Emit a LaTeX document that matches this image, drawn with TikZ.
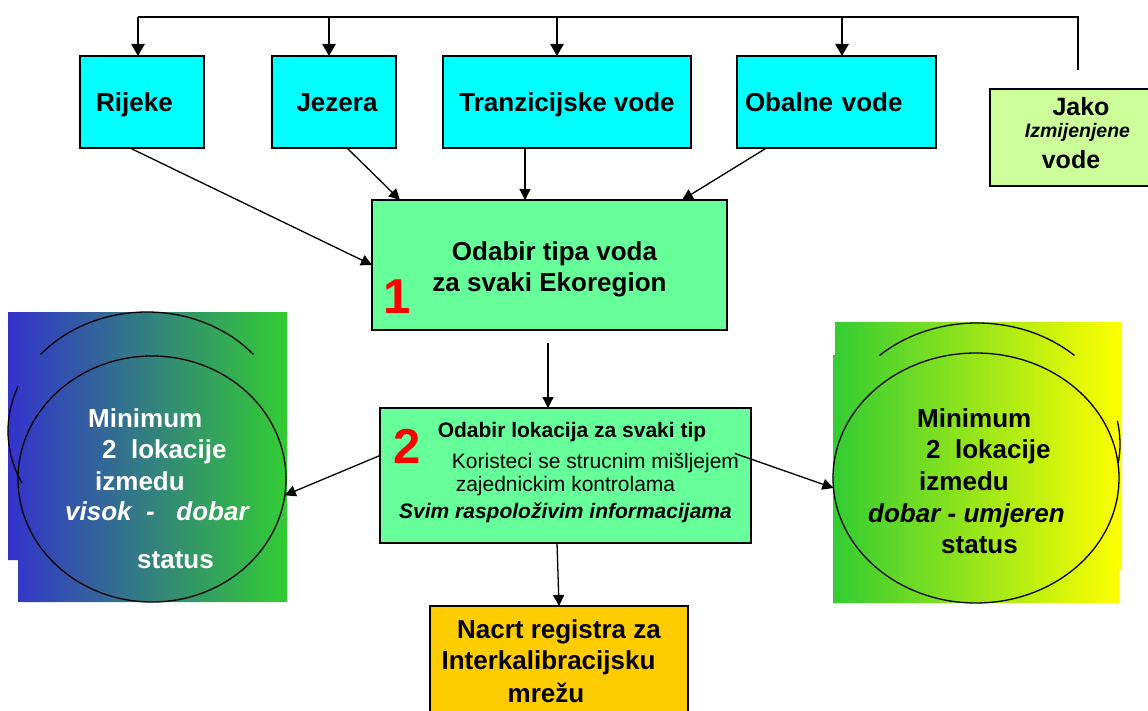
\documentclass[tikz,border=0pt]{standalone}
\usepackage{fontspec}
\setmainfont{Liberation Sans}
\usetikzlibrary{arrows.meta,shapes.geometric}
\definecolor{vcyan}{HTML}{00FFFF}
\definecolor{vgreen}{HTML}{66FF99}
\definecolor{vlime}{HTML}{CCFF99}
\definecolor{vgold}{HTML}{FFCC00}
\definecolor{vblue}{HTML}{3333CC}
\definecolor{vgrass}{HTML}{33CC33}
\definecolor{vyellow}{HTML}{FFFF00}
\begin{document}
\begin{tikzpicture}[x=1pt,y=-1pt,
	box/.style={draw, line width=1.2pt, inner sep=0pt, outer sep=0pt, align=center, font=\fontsize{26}{31}\selectfont\bfseries},
	tbox/.style={box, fill=vcyan, minimum height=92, text height=20pt, text depth=0pt},
	arr/.style={-{Triangle[length=11pt,width=11pt]}, line width=1.3pt},
	bigarr/.style={-{Triangle[length=12pt,width=13pt]}, line width=2.6pt},
	ring/.style={ellipse, draw, line width=1.3pt, inner sep=0pt, outer sep=0pt},
	ctext/.style={anchor=base west, inner sep=0pt, font=\fontsize{26}{31}\selectfont\bfseries},
	num/.style={anchor=base, inner sep=0pt, text=red, font=\fontsize{49}{49}\selectfont\bfseries}]
	
	\useasboundingbox (0,0) rectangle (1148,711);
	
	% coloured fields behind the two circles
	\shade [left color=vblue, right color=vgrass] (8,312) -- (287,312) -- (287,602) -- (18,602) -- (18,560) -- (8,560) -- cycle;
	\shade [left color=vgrass, right color=vyellow] (835,322) -- (1122,322) -- (1122,570) -- (1119,570) -- (1119,603) -- (833,603) -- (833,355) -- (835,355) -- cycle;
	
	% back circles, only partly seen
	\draw [line width=1.3pt] (147,431) ++(140:139pt and 119pt) arc [start angle=140, end angle=40, x radius=139pt, y radius=119pt];
	\draw [line width=1.3pt] (147,431) ++(158:139pt and 119pt) arc [start angle=158, end angle=206, x radius=139pt, y radius=119pt];
	\draw [line width=1.3pt] (977,444) ++(133:143pt and 121pt) arc [start angle=133, end angle=47, x radius=143pt, y radius=121pt];
	\draw [line width=1.3pt] (977,444) ++(-9:143pt and 121pt) arc [start angle=-9, end angle=11, x radius=143pt, y radius=121pt];
	
	\node [ring, minimum width=268, minimum height=246] (lcirc) at (152,479) {};
	\node [ring, minimum width=286, minimum height=250] (rcirc) at (976,478) {};
	
	\node [ctext, text=white] (lmin) at (88,427) {Minimum};
	\node [ctext, text=white] (llok) at (102,458) {2\ \ lokacije};
	\node [ctext, text=white] (lizm) at (95,490) {izmedu};
	\node [ctext, text=white] (lvis) at (65,520) {\itshape visok\ \ -\ \ \ dobar};
	\node [ctext, text=white] (lsta) at (137,568) {status};
	
	\node [ctext] (rmin) at (917,427) {Minimum};
	\node [ctext] (rlok) at (926,458) {2\ \ lokacije};
	\node [ctext] (rizm) at (919,490) {izmedu};
	\node [ctext] (rdob) at (868,522) {\itshape dobar - umjeren};
	\node [ctext] (rsta) at (941,553) {status};
	
	% water types
	\node [tbox, minimum width=124] (rij) at (142,102) {\hspace*{-15pt}Rijeke};
	\node [tbox, minimum width=124] (jez) at (334,102) {\hspace*{6pt}Jezera};
	\node [tbox, minimum width=248] (tra) at (567,102) {Tranzicijske vode};
	\node [tbox, minimum width=199, text width=183, align=left] (obl) at (836.5,102) {Obalne vode};
	\node [box, fill=vlime, minimum width=182, minimum height=97, font=\fontsize{25}{27}\selectfont\bfseries] (jak) at (1081,137.5) {Jako\\[-5pt]\hspace*{-7pt}{\fontsize{19.5}{21}\selectfont\itshape Izmijenjene}\\[4pt]\hspace*{-20pt}vode\rule[-10pt]{0pt}{0pt}};
	
	% steps
	\node [box, fill=vgreen, minimum width=355, minimum height=130] (odb) at (549.5,265) {\rule{0pt}{27pt}\hspace*{10pt}Odabir tipa voda\\za svaki Ekoregion};
	\node [num] (n1) at (397,313) {1};
	
	\node [box, fill=vgreen, minimum width=371, minimum height=135, font=\fontsize{21}{23}\selectfont] (lok) at (565.5,475.5) {\hspace*{13pt}\textbf{Odabir lokacija za svaki tip}\\[8pt]\hspace*{60pt}Koristeci se strucnim mišljejem\\zajednickim kontrolama\\[4pt]\textbf{\textit{Svim raspoloživim informacijama}}\rule[-11pt]{0pt}{0pt}};
	\node [num] (n2) at (407,463) {2};
	
	\node [box, fill=vgold, minimum width=258, minimum height=110] (nac) at (559,661) {Nacrt registra za\\\hspace*{-21pt}Interkalibracijsku\\[2pt]\hspace*{-26pt}mrežu};
	
	% top line
	\coordinate (busl) at (138,17);
	\coordinate (busr) at (1078,17);
	\coordinate (jakt) at (1078,70);
	\draw [line width=1.3pt] (busl) -- (busr) -- (jakt);
	\draw [bigarr] ([xshift=-4pt]rij.north |- busl) -- ([xshift=-4pt]rij.north);
	\draw [bigarr] ([xshift=-5pt]jez.north |- busl) -- ([xshift=-5pt]jez.north);
	\draw [bigarr] ([xshift=-10pt]tra.north |- busl) -- ([xshift=-10pt]tra.north);
	\draw [bigarr] ([xshift=5.5pt]obl.north |- busl) -- ([xshift=5.5pt]obl.north);
	
	\draw [arr] ([xshift=-12pt]rij.south) -- (odb.west);
	\draw [arr] ([xshift=13pt]jez.south) -- ([xshift=28pt]odb.north west);
	\draw [arr] ([xshift=-42pt]tra.south) -- ([xshift=-42pt]tra.south |- odb.north);
	\draw [arr] ([xshift=-70pt]obl.south) -- ([xshift=-45pt]odb.north east);
	
	\draw [arr, shorten <=13pt] ([xshift=-1.5pt]odb.south) -- ([xshift=-1.5pt]odb.south |- lok.north);
	\draw [arr] ([yshift=20pt]lok.west) -- (lcirc.-7);
	\draw [arr] ([xshift=-16pt,yshift=22pt]lok.east) -- (rcirc.184);
	\draw [arr] ([xshift=-8.5pt]lok.south) -- (nac.north);
	
\end{tikzpicture}
\end{document}
